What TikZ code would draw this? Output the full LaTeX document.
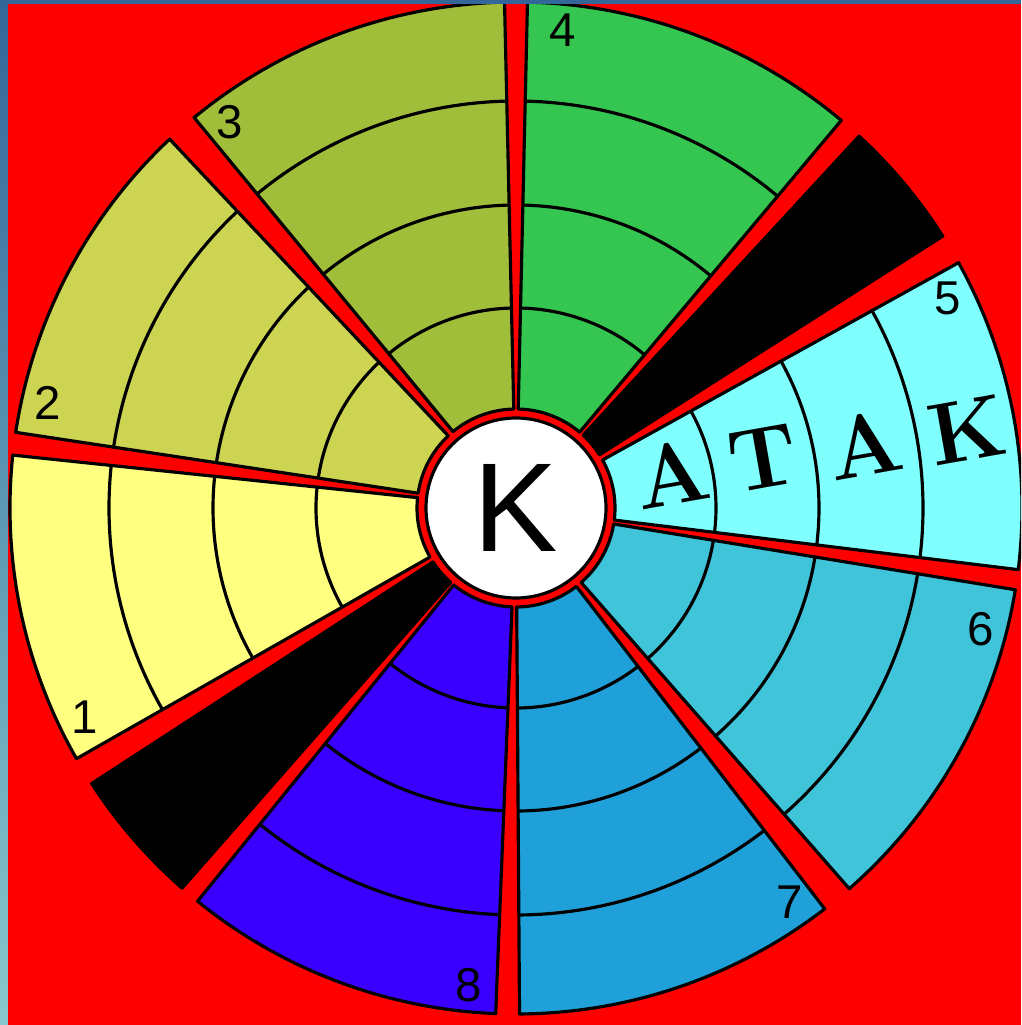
\documentclass[tikz,border=0pt]{standalone}
\usepackage{fontspec}
\setsansfont{Liberation Sans}
\usepackage{tikz}
\usetikzlibrary{calc}
\definecolor{bgred}      {RGB}{255, 0,   0}
\definecolor{secone}     {RGB}{255, 255, 128}
\definecolor{sectwo}     {RGB}{204, 212, 82}
\definecolor{secthree}   {RGB}{161, 190, 58}
\definecolor{secfour}    {RGB}{52,  198, 80}
\definecolor{secfive}    {RGB}{128, 255, 255}
\definecolor{secsix}     {RGB}{64,  196, 218}
\definecolor{secseven}   {RGB}{32,  160, 216}
\definecolor{seceight}   {RGB}{58,  0,   255}
\definecolor{frameblue}  {RGB}{51,  102, 153}
\definecolor{framelight} {RGB}{136, 200, 204}
\tikzset{
  sector/.style={draw=black, line width=0.9pt, line join=round},
  ringline/.style={draw=black, line width=0.9pt},
  numlabel/.style={font=\sffamily\fontsize{13.5}{16}\selectfont, inner sep=0pt},
  atak/.style={font=\fontsize{25}{30}\selectfont\bfseries, inner sep=0pt, rotate=10},
  hub/.style={circle, draw=black, line width=0.9pt, fill=white, minimum size=1.8cm,
    inner sep=0pt, font=\sffamily\fontsize{36}{40}\selectfont}
}
\begin{document}
\begin{tikzpicture}
  \useasboundingbox (-5.16,-5.17) rectangle (5.05,5.08);
  \fill[bgred] (-5.16,-5.17) rectangle (5.05,5.08);
  \begin{scope}
    \clip (-5.16,-5.17) rectangle (5.05,5.08);
    % coloured sectors with rings
    \foreach \a/\b/\c/\n/\l in {-7/29/secfive/5/25.9, 50/88.7/secfour/4/84.4,
        91.3/129.5/secthree/3/126.6, 133.2/171.4/sectwo/2/167.4,
        174/209.7/secone/1/205.9, 231/267.7/seceight/8/264.3,
        270.4/307.6/secseven/7/304.7, 311.2/350.7/secsix/6/345.4}{
      \draw[sector, fill=\c] (\a:0.99) -- (\a:5.06)
        arc[start angle=\a, end angle=\b, radius=5.06] -- (\b:0.99)
        arc[start angle=\b, end angle=\a, radius=0.99] -- cycle;
      \foreach \r in {2.0,3.03,4.07}
        \draw[ringline] (\a:\r) arc[start angle=\a, end angle=\b, radius=\r];
      \node[numlabel] (num\n) at (\l:4.8) {\n};
    }
    % black wedges
    \foreach \a/\b in {32.5/47.3, 213/228.7}
      \draw[sector, fill=black] (\a:0.99) -- (\a:5.06)
        arc[start angle=\a, end angle=\b, radius=5.06] -- (\b:0.99)
        arc[start angle=\b, end angle=\a, radius=0.99] -- cycle;
  \end{scope}
  % centre
  \node[hub] (centre) at (0,0) {K};
  % word in sector 5
  \foreach \ang/\rad/\ch [count=\i] in {12.5/1.6/A, 11.5/2.52/T, 10.3/3.55/A, 9.8/4.58/K}
    \node[atak] (atak\i) at (\ang:\rad) {\ch};
  % frame strips
  \shade[top color=frameblue, bottom color=framelight] (-5.16,-5.17) rectangle (-5.08,5.08);
  \fill[frameblue] (-5.16,5.04) rectangle (5.05,5.08);
\end{tikzpicture}
\end{document}
